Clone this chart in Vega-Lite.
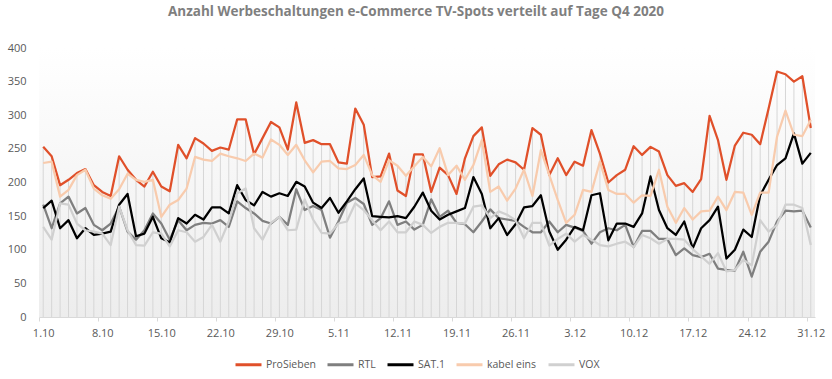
{
  "$schema": "https://vega.github.io/schema/vega-lite/v6.json",
  "width": 776,
  "height": 269,
  "autosize": {"type": "none"},
  "padding": {"left": 39, "top": 48, "right": 17, "bottom": 62},
  "background": "white",
  "title": {"text": "Anzahl Werbeschaltungen e-Commerce  TV-Spots verteilt auf Tage Q4 2020", "font": "Open Sans", "fontSize": 13.5, "fontWeight": "bold", "color": "#7f7f7f", "offset": 24, "dx": -11},
  "config": {
    "view": {"stroke": null, "fill": {"gradient": "linear", "x1": 0, "y1": 0, "x2": 0, "y2": 1, "stops": [{"offset": 0, "color": "#ffffff"}, {"offset": 1, "color": "#ededed"}]}},
    "axisY": {"title": null, "values": [0, 50, 100, 150, 200, 250, 300, 350, 400], "grid": false, "domain": false, "ticks": false, "labelPadding": 13, "labelColor": "#595959", "labelFont": "Open Sans", "labelFontSize": 11}
  },
  "data": {"values": [
    {"Datum": "2020-10-01", "ProSieben": 253, "RTL": 167, "SAT1": 162, "kabel eins": 229, "VOX": 134},
    {"Datum": "2020-10-02", "ProSieben": 239, "RTL": 132, "SAT1": 173, "kabel eins": 231, "VOX": 115},
    {"Datum": "2020-10-03", "ProSieben": 196, "RTL": 169, "SAT1": 132, "kabel eins": 179, "VOX": 169},
    {"Datum": "2020-10-04", "ProSieben": 204, "RTL": 179, "SAT1": 144, "kabel eins": 189, "VOX": 167},
    {"Datum": "2020-10-05", "ProSieben": 214, "RTL": 154, "SAT1": 117, "kabel eins": 211, "VOX": 139},
    {"Datum": "2020-10-06", "ProSieben": 220, "RTL": 162, "SAT1": 132, "kabel eins": 219, "VOX": 129},
    {"Datum": "2020-10-07", "ProSieben": 196, "RTL": 137, "SAT1": 122, "kabel eins": 191, "VOX": 127},
    {"Datum": "2020-10-08", "ProSieben": 186, "RTL": 129, "SAT1": 124, "kabel eins": 181, "VOX": 124},
    {"Datum": "2020-10-09", "ProSieben": 180, "RTL": 139, "SAT1": 127, "kabel eins": 176, "VOX": 107},
    {"Datum": "2020-10-10", "ProSieben": 239, "RTL": 164, "SAT1": 167, "kabel eins": 190, "VOX": 164},
    {"Datum": "2020-10-11", "ProSieben": 219, "RTL": 127, "SAT1": 183, "kabel eins": 213, "VOX": 129},
    {"Datum": "2020-10-12", "ProSieben": 204, "RTL": 115, "SAT1": 120, "kabel eins": 204, "VOX": 107},
    {"Datum": "2020-10-13", "ProSieben": 194, "RTL": 129, "SAT1": 124, "kabel eins": 201, "VOX": 106},
    {"Datum": "2020-10-14", "ProSieben": 216, "RTL": 154, "SAT1": 149, "kabel eins": 204, "VOX": 126},
    {"Datum": "2020-10-15", "ProSieben": 194, "RTL": 139, "SAT1": 117, "kabel eins": 149, "VOX": 124},
    {"Datum": "2020-10-16", "ProSieben": 187, "RTL": 115, "SAT1": 111, "kabel eins": 167, "VOX": 105},
    {"Datum": "2020-10-17", "ProSieben": 256, "RTL": 144, "SAT1": 147, "kabel eins": 174, "VOX": 129},
    {"Datum": "2020-10-18", "ProSieben": 236, "RTL": 129, "SAT1": 139, "kabel eins": 191, "VOX": 126},
    {"Datum": "2020-10-19", "ProSieben": 266, "RTL": 137, "SAT1": 152, "kabel eins": 238, "VOX": 112},
    {"Datum": "2020-10-20", "ProSieben": 258, "RTL": 140, "SAT1": 145, "kabel eins": 234, "VOX": 119},
    {"Datum": "2020-10-21", "ProSieben": 247, "RTL": 139, "SAT1": 163, "kabel eins": 232, "VOX": 137},
    {"Datum": "2020-10-22", "ProSieben": 252, "RTL": 144, "SAT1": 163, "kabel eins": 243, "VOX": 112},
    {"Datum": "2020-10-23", "ProSieben": 249, "RTL": 134, "SAT1": 154, "kabel eins": 239, "VOX": 142},
    {"Datum": "2020-10-24", "ProSieben": 294, "RTL": 172, "SAT1": 196, "kabel eins": 236, "VOX": 184},
    {"Datum": "2020-10-25", "ProSieben": 294, "RTL": 162, "SAT1": 174, "kabel eins": 232, "VOX": 191},
    {"Datum": "2020-10-26", "ProSieben": 242, "RTL": 154, "SAT1": 166, "kabel eins": 243, "VOX": 132},
    {"Datum": "2020-10-27", "ProSieben": 266, "RTL": 143, "SAT1": 186, "kabel eins": 237, "VOX": 115},
    {"Datum": "2020-10-28", "ProSieben": 290, "RTL": 139, "SAT1": 179, "kabel eins": 264, "VOX": 140},
    {"Datum": "2020-10-29", "ProSieben": 282, "RTL": 149, "SAT1": 184, "kabel eins": 256, "VOX": 149},
    {"Datum": "2020-10-30", "ProSieben": 249, "RTL": 137, "SAT1": 180, "kabel eins": 241, "VOX": 129},
    {"Datum": "2020-10-31", "ProSieben": 319, "RTL": 190, "SAT1": 201, "kabel eins": 256, "VOX": 130},
    {"Datum": "2020-11-01", "ProSieben": 259, "RTL": 159, "SAT1": 194, "kabel eins": 233, "VOX": 175},
    {"Datum": "2020-11-02", "ProSieben": 263, "RTL": 165, "SAT1": 170, "kabel eins": 215, "VOX": 145},
    {"Datum": "2020-11-03", "ProSieben": 257, "RTL": 159, "SAT1": 162, "kabel eins": 231, "VOX": 125},
    {"Datum": "2020-11-04", "ProSieben": 257, "RTL": 118, "SAT1": 177, "kabel eins": 232, "VOX": 124},
    {"Datum": "2020-11-05", "ProSieben": 230, "RTL": 142, "SAT1": 155, "kabel eins": 221, "VOX": 139},
    {"Datum": "2020-11-06", "ProSieben": 228, "RTL": 170, "SAT1": 172, "kabel eins": 220, "VOX": 142},
    {"Datum": "2020-11-07", "ProSieben": 310, "RTL": 177, "SAT1": 190, "kabel eins": 226, "VOX": 169},
    {"Datum": "2020-11-08", "ProSieben": 286, "RTL": 168, "SAT1": 206, "kabel eins": 241, "VOX": 159},
    {"Datum": "2020-11-09", "ProSieben": 208, "RTL": 137, "SAT1": 150, "kabel eins": 211, "VOX": 144},
    {"Datum": "2020-11-10", "ProSieben": 209, "RTL": 147, "SAT1": 149, "kabel eins": 201, "VOX": 129},
    {"Datum": "2020-11-11", "ProSieben": 243, "RTL": 172, "SAT1": 148, "kabel eins": 233, "VOX": 142},
    {"Datum": "2020-11-12", "ProSieben": 188, "RTL": 137, "SAT1": 150, "kabel eins": 225, "VOX": 126},
    {"Datum": "2020-11-13", "ProSieben": 180, "RTL": 142, "SAT1": 147, "kabel eins": 210, "VOX": 126},
    {"Datum": "2020-11-14", "ProSieben": 242, "RTL": 130, "SAT1": 164, "kabel eins": 224, "VOX": 142},
    {"Datum": "2020-11-15", "ProSieben": 242, "RTL": 137, "SAT1": 185, "kabel eins": 238, "VOX": 137},
    {"Datum": "2020-11-16", "ProSieben": 186, "RTL": 175, "SAT1": 158, "kabel eins": 224, "VOX": 125},
    {"Datum": "2020-11-17", "ProSieben": 222, "RTL": 149, "SAT1": 145, "kabel eins": 251, "VOX": 134},
    {"Datum": "2020-11-18", "ProSieben": 211, "RTL": 158, "SAT1": 152, "kabel eins": 211, "VOX": 140},
    {"Datum": "2020-11-19", "ProSieben": 183, "RTL": 140, "SAT1": 157, "kabel eins": 225, "VOX": 140},
    {"Datum": "2020-11-20", "ProSieben": 236, "RTL": 138, "SAT1": 162, "kabel eins": 204, "VOX": 139},
    {"Datum": "2020-11-21", "ProSieben": 269, "RTL": 126, "SAT1": 208, "kabel eins": 226, "VOX": 164},
    {"Datum": "2020-11-22", "ProSieben": 282, "RTL": 142, "SAT1": 183, "kabel eins": 263, "VOX": 166},
    {"Datum": "2020-11-23", "ProSieben": 210, "RTL": 160, "SAT1": 132, "kabel eins": 186, "VOX": 147},
    {"Datum": "2020-11-24", "ProSieben": 227, "RTL": 147, "SAT1": 147, "kabel eins": 194, "VOX": 157},
    {"Datum": "2020-11-25", "ProSieben": 234, "RTL": 145, "SAT1": 122, "kabel eins": 173, "VOX": 152},
    {"Datum": "2020-11-26", "ProSieben": 230, "RTL": 143, "SAT1": 138, "kabel eins": 191, "VOX": 144},
    {"Datum": "2020-11-27", "ProSieben": 219, "RTL": 134, "SAT1": 163, "kabel eins": 219, "VOX": 117},
    {"Datum": "2020-11-28", "ProSieben": 281, "RTL": 126, "SAT1": 165, "kabel eins": 180, "VOX": 140},
    {"Datum": "2020-11-29", "ProSieben": 271, "RTL": 126, "SAT1": 181, "kabel eins": 248, "VOX": 140},
    {"Datum": "2020-11-30", "ProSieben": 211, "RTL": 142, "SAT1": 127, "kabel eins": 211, "VOX": 106},
    {"Datum": "2020-12-01", "ProSieben": 236, "RTL": 126, "SAT1": 100, "kabel eins": 174, "VOX": 116},
    {"Datum": "2020-12-02", "ProSieben": 211, "RTL": 137, "SAT1": 115, "kabel eins": 140, "VOX": 124},
    {"Datum": "2020-12-03", "ProSieben": 231, "RTL": 133, "SAT1": 134, "kabel eins": 152, "VOX": 112},
    {"Datum": "2020-12-04", "ProSieben": 225, "RTL": 128, "SAT1": 129, "kabel eins": 189, "VOX": 122},
    {"Datum": "2020-12-05", "ProSieben": 278, "RTL": 109, "SAT1": 181, "kabel eins": 186, "VOX": 115},
    {"Datum": "2020-12-06", "ProSieben": 243, "RTL": 126, "SAT1": 184, "kabel eins": 231, "VOX": 107},
    {"Datum": "2020-12-07", "ProSieben": 200, "RTL": 132, "SAT1": 114, "kabel eins": 189, "VOX": 105},
    {"Datum": "2020-12-08", "ProSieben": 211, "RTL": 129, "SAT1": 139, "kabel eins": 183, "VOX": 109},
    {"Datum": "2020-12-09", "ProSieben": 219, "RTL": 137, "SAT1": 139, "kabel eins": 183, "VOX": 112},
    {"Datum": "2020-12-10", "ProSieben": 254, "RTL": 104, "SAT1": 134, "kabel eins": 170, "VOX": 104},
    {"Datum": "2020-12-11", "ProSieben": 241, "RTL": 128, "SAT1": 154, "kabel eins": 181, "VOX": 122},
    {"Datum": "2020-12-12", "ProSieben": 253, "RTL": 128, "SAT1": 209, "kabel eins": 180, "VOX": 117},
    {"Datum": "2020-12-13", "ProSieben": 246, "RTL": 116, "SAT1": 159, "kabel eins": 219, "VOX": 109},
    {"Datum": "2020-12-14", "ProSieben": 211, "RTL": 116, "SAT1": 132, "kabel eins": 164, "VOX": 116},
    {"Datum": "2020-12-15", "ProSieben": 195, "RTL": 92, "SAT1": 122, "kabel eins": 140, "VOX": 116},
    {"Datum": "2020-12-16", "ProSieben": 199, "RTL": 102, "SAT1": 142, "kabel eins": 162, "VOX": 115},
    {"Datum": "2020-12-17", "ProSieben": 186, "RTL": 92, "SAT1": 102, "kabel eins": 145, "VOX": 101},
    {"Datum": "2020-12-18", "ProSieben": 205, "RTL": 89, "SAT1": 132, "kabel eins": 157, "VOX": 90},
    {"Datum": "2020-12-19", "ProSieben": 299, "RTL": 94, "SAT1": 144, "kabel eins": 158, "VOX": 79},
    {"Datum": "2020-12-20", "ProSieben": 263, "RTL": 72, "SAT1": 164, "kabel eins": 179, "VOX": 95},
    {"Datum": "2020-12-21", "ProSieben": 204, "RTL": 70, "SAT1": 87, "kabel eins": 159, "VOX": 68},
    {"Datum": "2020-12-22", "ProSieben": 255, "RTL": 69, "SAT1": 100, "kabel eins": 186, "VOX": 70},
    {"Datum": "2020-12-23", "ProSieben": 274, "RTL": 97, "SAT1": 130, "kabel eins": 185, "VOX": 85},
    {"Datum": "2020-12-24", "ProSieben": 271, "RTL": 60, "SAT1": 119, "kabel eins": 152, "VOX": 77},
    {"Datum": "2020-12-25", "ProSieben": 257, "RTL": 97, "SAT1": 181, "kabel eins": 185, "VOX": 144},
    {"Datum": "2020-12-26", "ProSieben": 310, "RTL": 112, "SAT1": 204, "kabel eins": 185, "VOX": 127},
    {"Datum": "2020-12-27", "ProSieben": 365, "RTL": 142, "SAT1": 226, "kabel eins": 268, "VOX": 137},
    {"Datum": "2020-12-28", "ProSieben": 361, "RTL": 158, "SAT1": 236, "kabel eins": 307, "VOX": 167},
    {"Datum": "2020-12-29", "ProSieben": 350, "RTL": 157, "SAT1": 273, "kabel eins": 271, "VOX": 167},
    {"Datum": "2020-12-30", "ProSieben": 358, "RTL": 158, "SAT1": 228, "kabel eins": 269, "VOX": 162},
    {"Datum": "2020-12-31", "ProSieben": 281, "RTL": 133, "SAT1": 244, "kabel eins": 293, "VOX": 107}
  ]},
  "transform": [{"fold": ["ProSieben", "RTL", "SAT1", "kabel eins", "VOX"], "as": ["Sender", "Anzahl"]}],
  "encoding": {
    "x": {
      "field": "Datum", "type": "temporal",
      "scale": {"type": "utc", "domain": [{"year": 2020, "month": 9, "date": 30, "hours": 12, "utc": true}, {"year": 2020, "month": 12, "date": 31, "hours": 12, "utc": true}]},
      "axis": {
        "title": null, "grid": false, "format": "%-d.%-m",
        "values": [
          {"year": 2020, "month": 10, "date": 1, "utc": true},
          {"year": 2020, "month": 10, "date": 8, "utc": true},
          {"year": 2020, "month": 10, "date": 15, "utc": true},
          {"year": 2020, "month": 10, "date": 22, "utc": true},
          {"year": 2020, "month": 10, "date": 29, "utc": true},
          {"year": 2020, "month": 11, "date": 5, "utc": true},
          {"year": 2020, "month": 11, "date": 12, "utc": true},
          {"year": 2020, "month": 11, "date": 19, "utc": true},
          {"year": 2020, "month": 11, "date": 26, "utc": true},
          {"year": 2020, "month": 12, "date": 3, "utc": true},
          {"year": 2020, "month": 12, "date": 10, "utc": true},
          {"year": 2020, "month": 12, "date": 17, "utc": true},
          {"year": 2020, "month": 12, "date": 24, "utc": true},
          {"year": 2020, "month": 12, "date": 31, "utc": true}
        ],
        "domainColor": "#d9d9d9", "tickColor": "#d9d9d9", "tickSize": 4, "tickOffset": -4.2, "labelOffset": 4.2,
        "labelPadding": 6, "labelColor": "#595959", "labelFont": "Open Sans", "labelFontSize": 11, "labelFlush": false, "labelOverlap": false
      }
    },
    "y": {"type": "quantitative", "scale": {"domain": [0, 400]}}
  },
  "layer": [
    {
      "transform": [{"aggregate": [{"op": "max", "field": "Anzahl", "as": "Max"}], "groupby": ["Datum"]}],
      "mark": {"type": "rule", "color": "#d6d6d6", "strokeWidth": 1},
      "encoding": {
        "y": {"field": "Max", "type": "quantitative", "scale": {"domain": [0, 400]}, "title": null},
        "y2": {"datum": 0}
      }
    },
    {
      "mark": {"type": "line", "strokeWidth": 2.25, "strokeJoin": "round"},
      "encoding": {
        "y": {"field": "Anzahl", "type": "quantitative", "scale": {"domain": [0, 400]}, "title": null},
        "color": {
          "field": "Sender", "type": "nominal",
          "scale": {"domain": ["ProSieben", "RTL", "SAT1", "kabel eins", "VOX"], "range": ["#E0502A", "#7F7F7F", "#000000", "#F8CBAD", "#D0D0D0"]},
          "legend": {
            "orient": "none", "legendX": 195, "legendY": 302, "direction": "horizontal", "title": null,
            "symbolType": "stroke", "symbolSize": 676, "symbolStrokeWidth": 3, "labelOffset": 3, "columnPadding": 5,
            "labelFont": "Open Sans", "labelFontSize": 10.5, "labelColor": "#595959",
            "labelExpr": "datum.label == 'SAT1' ? 'SAT.1' : datum.label"
          }
        }
      }
    }
  ]
}
